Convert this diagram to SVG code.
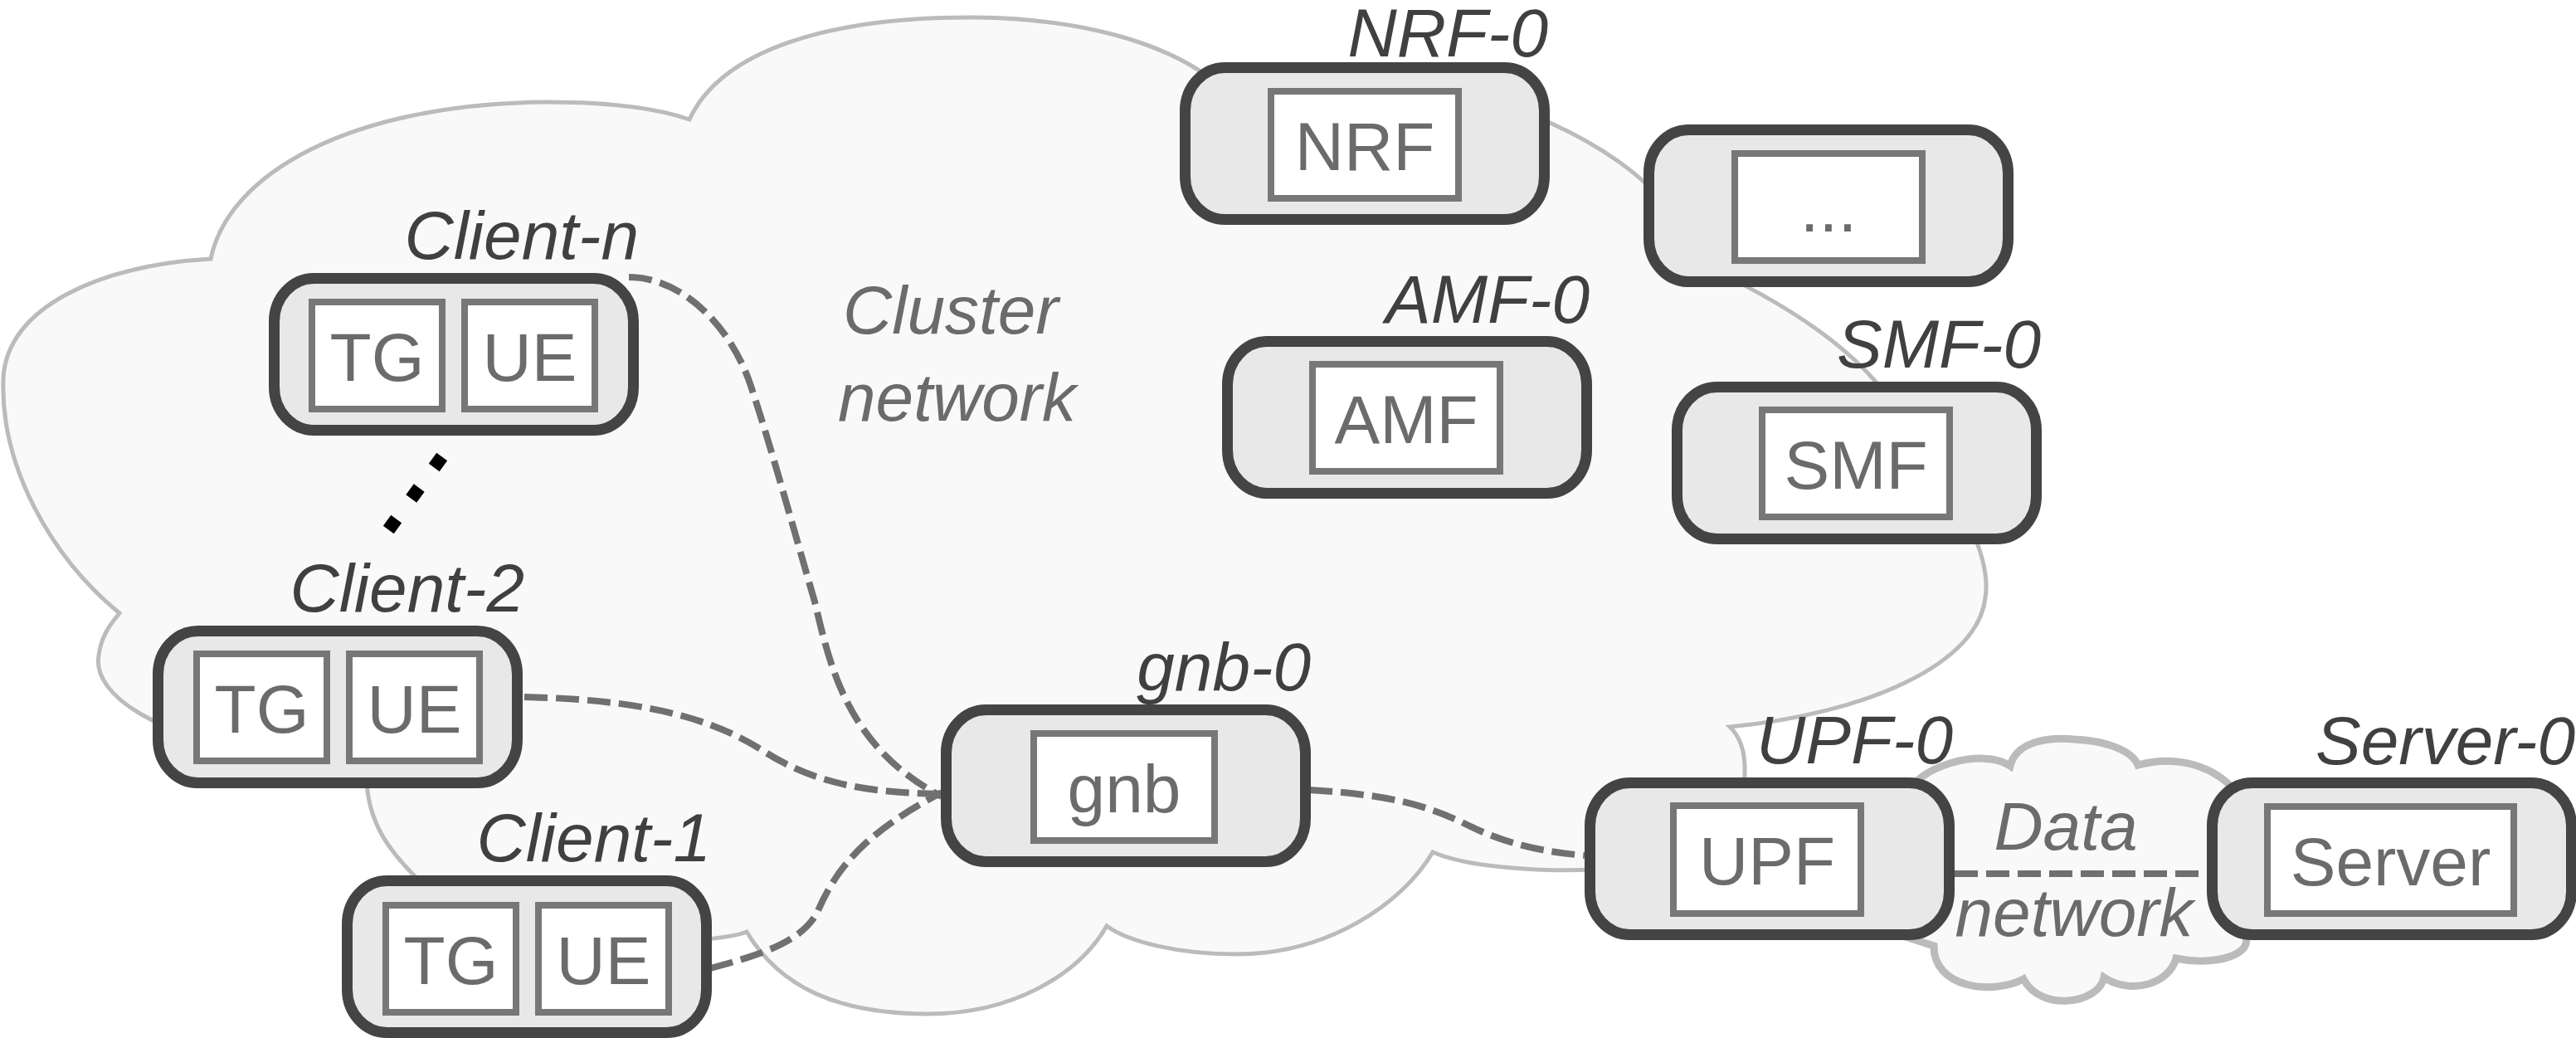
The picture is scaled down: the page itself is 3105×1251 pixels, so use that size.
<svg xmlns="http://www.w3.org/2000/svg" width="3105" height="1251" viewBox="0 0 3105 1251">
<style>
.cloud{fill:#f9f9f9;stroke:#bbbbbb;stroke-width:5;stroke-linejoin:miter}
.dcloud{fill:#f9f9f9;stroke:#bbbbbb;stroke-width:9}
.node{fill:#e8e8e8;stroke:#444444;stroke-width:13}
.box{fill:#ffffff;stroke:#777777;stroke-width:8}
.lbl{font-family:"Liberation Sans",Arial,sans-serif;font-style:italic;font-size:82px;fill:#404040;text-anchor:end}
.in{font-family:"Liberation Sans",Arial,sans-serif;font-size:82px;fill:#6b6b6b;text-anchor:middle}
.note{font-family:"Liberation Sans",Arial,sans-serif;font-style:italic;font-size:82px;fill:#6b6b6b}
.conn{fill:none;stroke:#707070;stroke-width:8;stroke-dasharray:28 10}
.dots{fill:none;stroke:#000000;stroke-width:16;stroke-dasharray:16 30.5}
</style>
<rect x="0" y="0" width="3105" height="1251" fill="#ffffff"/>
<g id="cluster-network">
<path class="cloud" d="M 144,739 C 60,670 0,560 4,456 C 8,370 120,320 254,312 C 275,210 420,125 660,123 C 730,123 790,130 831,144 C 870,60 1000,20 1175,21 C 1300,22 1400,50 1460,95 L 1700,100 C 1800,110 1950,170 2010,250 L 2010,300 C 2150,360 2260,430 2300,520 C 2370,600 2400,680 2393,720 C 2385,800 2250,860 2085,876 C 2100,890 2108,915 2100,960 L 1950,1045 C 1900,1052 1780,1050 1727,1027 C 1690,1090 1600,1150 1490,1150 C 1420,1150 1360,1135 1334,1116 C 1300,1175 1220,1222 1118,1222 C 1010,1222 940,1190 900,1123 C 860,1140 600,1150 520,1075 C 470,1030 440,990 442,930 L 300,900 C 200,890 110,840 119,790 C 122,765 135,750 144,739 Z"/>
<text class="note" x="1016" y="402">Cluster</text>
<text class="note" x="1010" y="507">network</text>
</g>
<g id="data-network">
<path class="dcloud" d="M 2300,960 C 2305,925 2390,900 2423,923 C 2430,895 2465,888 2500,891 C 2540,893 2570,905 2577,922 C 2620,910 2670,920 2700,960 L 2705,1125 C 2720,1150 2670,1165 2623,1155 C 2615,1185 2570,1200 2536,1178 C 2530,1210 2460,1220 2439,1180 C 2400,1200 2330,1190 2331,1140 L 2300,1130 Z"/>
<text class="note" x="2490" y="1024" text-anchor="middle">Data</text>
<text class="note" x="2500" y="1128" text-anchor="middle">network</text>
</g>
<g id="connectors">
<path class="conn" d="M 758,334 C 820,334 880,390 905,465 C 930,540 960,650 982,725 C 1000,800 1020,900 1135,960"/>
<path class="conn" d="M 632,840 C 760,843 850,860 920,905 C 990,950 1060,955 1135,957"/>
<path class="conn" d="M 856,1167 C 920,1150 965,1135 985,1100 C 1010,1040 1050,1000 1135,955"/>
<path class="conn" d="M 1578,952 C 1680,958 1720,972 1760,990 C 1800,1010 1840,1025 1910,1031"/>
<path class="conn" d="M 2356,1053 L 2660,1053"/>
<path class="dots" d="M 532.7,550.6 L 468.3,638.4"/>
</g>
<g id="client-n">
<rect class="node" x="330.5" y="335.5" width="433" height="183" rx="48" ry="52"/>
<rect class="box" x="376" y="364" width="157" height="129"/>
<rect class="box" x="560" y="364" width="157" height="129"/>
<text class="in" x="454.5" y="458.5">TG</text>
<text class="in" x="638.5" y="458.5">UE</text>
<text class="lbl" x="770" y="312">Client-n</text>
</g>
<g id="client-2">
<rect class="node" x="190.5" y="760.5" width="433" height="183" rx="48" ry="52"/>
<rect class="box" x="237" y="788" width="157" height="129"/>
<rect class="box" x="421" y="788" width="157" height="129"/>
<text class="in" x="315.5" y="882.5">TG</text>
<text class="in" x="499.5" y="882.5">UE</text>
<text class="lbl" x="632" y="737">Client-2</text>
</g>
<g id="client-1">
<rect class="node" x="418.5" y="1061.5" width="433" height="183" rx="48" ry="52"/>
<rect class="box" x="465" y="1091" width="157" height="129"/>
<rect class="box" x="649" y="1091" width="157" height="129"/>
<text class="in" x="543.5" y="1185.5">TG</text>
<text class="in" x="727.5" y="1185.5">UE</text>
<text class="lbl" x="857" y="1038">Client-1</text>
</g>
<g id="nrf-0">
<rect class="node" x="1428.5" y="81.5" width="433" height="183" rx="48" ry="52"/>
<rect class="box" x="1532" y="110" width="226" height="129"/>
<text class="in" x="1645" y="204.5">NRF</text>
<text class="lbl" x="1866" y="68">NRF-0</text>
</g>
<g id="other-nf">
<rect class="node" x="1987.5" y="156.5" width="433" height="183" rx="48" ry="52"/>
<rect class="box" x="2091" y="185" width="226" height="129"/>
<text class="in" x="2204" y="279">...</text>
</g>
<g id="amf-0">
<rect class="node" x="1479.5" y="411.5" width="433" height="183" rx="48" ry="52"/>
<rect class="box" x="1582" y="439" width="226" height="129"/>
<text class="in" x="1695" y="533.5">AMF</text>
<text class="lbl" x="1916" y="389">AMF-0</text>
</g>
<g id="smf-0">
<rect class="node" x="2021.5" y="466.5" width="433" height="183" rx="48" ry="52"/>
<rect class="box" x="2124" y="494" width="226" height="129"/>
<text class="in" x="2237" y="588.5">SMF</text>
<text class="lbl" x="2460" y="443">SMF-0</text>
</g>
<g id="gnb-0">
<rect class="node" x="1140.5" y="855.5" width="433" height="183" rx="48" ry="52"/>
<rect class="box" x="1246" y="884" width="218" height="129"/>
<text class="in" x="1355" y="978.5">gnb</text>
<text class="lbl" x="1580" y="832">gnb-0</text>
</g>
<g id="upf-0">
<rect class="node" x="1916.5" y="943.5" width="433" height="183" rx="48" ry="52"/>
<rect class="box" x="2017" y="971" width="226" height="130"/>
<text class="in" x="2130" y="1066">UPF</text>
<text class="lbl" x="2354" y="920">UPF-0</text>
</g>
<g id="server-0">
<rect class="node" x="2666.5" y="943.5" width="433" height="183" rx="48" ry="52"/>
<rect class="box" x="2733" y="972" width="297" height="129"/>
<text class="in" x="2881.5" y="1066.5">Server</text>
<text class="lbl" x="3104" y="921">Server-0</text>
</g>
</svg>
